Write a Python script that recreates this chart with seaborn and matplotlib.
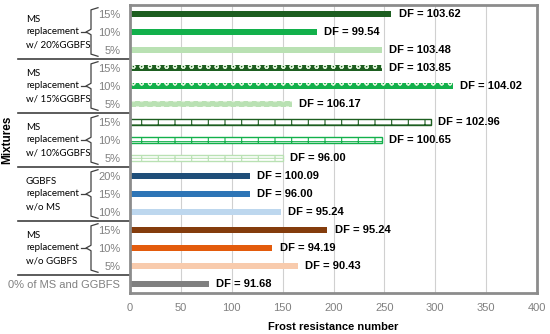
import matplotlib.pyplot as plt
import pandas as pd
import numpy as np
import seaborn as sns
from matplotlib.transforms import blended_transform_factory

# --- data ---
tick_labels = ["15%", "10%", "5%",
               "15%", "10%", "5%",
               "15%", "10%", "5%",
               "20%", "15%", "10%",
               "15%", "10%", "5%",
               "0% of MS and GGBFS"]
frost_number = [257, 184, 248,
                248, 317, 159,
                296, 248, 150,
                118, 118, 148,
                194, 140, 165,
                78]
df_values = [103.62, 99.54, 103.48,
             103.85, 104.02, 106.17,
             102.96, 100.65, 96.00,
             100.09, 96.00, 95.24,
             95.24, 94.19, 90.43,
             91.68]
group_names = ["MS\nreplacement\nw/ 20%GGBFS",
               "MS\nreplacement\nw/ 15%GGBFS",
               "MS\nreplacement\nw/ 10%GGBFS",
               "GGBFS\nreplacement\nw/o MS",
               "MS\nreplacement\nw/o GGBFS"]
group_rows = [(0, 2), (3, 5), (6, 8), (9, 11), (12, 14)]

greens = ["#1d5e20", "#12b04b", "#b9e1b3"]
blues = ["#1f4e79", "#2e75b6", "#bdd7ee"]
oranges = ["#843c0c", "#e35b0c", "#f8cbad"]
bar_colors = greens * 3 + blues + oranges + ["#808080"]
# fill style per row: solid, dotted pattern, brick outline
styles = ["solid"] * 3 + ["dots"] * 3 + ["brick"] * 3 + ["solid"] * 7

rows = [f"r{i}" for i in range(len(tick_labels))]
data = pd.DataFrame({"row": rows, "value": frost_number})

plt.rcParams["font.family"] = ["Liberation Sans", "DejaVu Sans"]
plt.rcParams["hatch.linewidth"] = 0.8

fig = plt.figure(figsize=(5.5, 3.34), dpi=100)
L, R, T, B = 130, 537, 5, 293
ax = fig.add_axes([L / 550, 1 - B / 334, (R - L) / 550, (B - T) / 334])

sns.barplot(data=data, x="value", y="row", hue="row", palette=bar_colors,
            orient="h", dodge=False, legend=False, width=0.36, ax=ax,
            saturation=1)

for patch, col, st in zip(ax.patches, bar_colors, styles):
    patch.set_linewidth(0)
    if st == "dots":
        patch.set_facecolor(col)
        patch.set_edgecolor("#dff2da")
        patch.set_hatch("oo")
    elif st == "brick":
        patch.set_facecolor("white")
        patch.set_edgecolor(col)
        patch.set_linewidth(1.0)
        patch.set_hatch("+")

for i, (v, d) in enumerate(zip(frost_number, df_values)):
    ax.text(v + 7, i, f"DF = {d:.2f}", va="center", ha="left",
            fontsize=8, fontweight="bold", color="black")

ax.set_xlim(0, 400)
ax.set_ylim(len(rows) - 0.5, -0.5)
ax.set_xticks(np.arange(0, 401, 50))
ax.set_yticks(range(len(rows)))
ax.set_yticklabels(tick_labels)
ax.tick_params(axis="both", length=0, labelsize=8, labelcolor="#808080")
ax.tick_params(axis="y", pad=7)
ax.tick_params(axis="x", pad=7)
ax.xaxis.grid(True, color="#d0d0d0", linewidth=0.8)
ax.set_axisbelow(True)
for sp in ax.spines.values():
    sp.set_color("#8c8c8c")
    sp.set_linewidth(2)

ax.set_ylabel("")
ax.set_xlabel("Frost resistance number", fontsize=8, fontweight="bold",
              labelpad=7)
fig.text(0.014, 1 - 140 / 334, "Mixtures", rotation=90, fontsize=8.5,
         fontweight="bold", va="center", ha="center")

# group labels, braces and separators (left of the axes)
tr = blended_transform_factory(ax.transAxes, ax.transData)
def px(x):
    return (x - L) / (R - L)

for name, (r0, r2) in zip(group_names, group_rows):
    mid = (r0 + r2) / 2
    ax.text(px(26), mid, name, transform=tr, ha="left", va="center",
            fontsize=7, family=["Lato", "DejaVu Sans"], linespacing=1.5,
            clip_on=False)
    top, bot = r0 - 0.35, r2 + 0.35
    xl, xh, xt = px(91), px(98), px(86)
    bx = [xh, xl, xl, xt, xl, xl, xh]
    by = [top, top + 0.12, mid - 0.15, mid, mid + 0.15, bot - 0.12, bot]
    ax.plot(bx, by, transform=tr, color="#404040", lw=0.9, clip_on=False)
    ax.plot([px(81), xt], [mid, mid], transform=tr, color="#404040", lw=0.9,
            clip_on=False)

for y in [2.5, 5.5, 8.5, 11.5, 14.5]:
    ax.plot([px(18), 0], [y, y], transform=tr, color="#404040", lw=1.2,
            clip_on=False)

fig.savefig("out.png", dpi=100)
